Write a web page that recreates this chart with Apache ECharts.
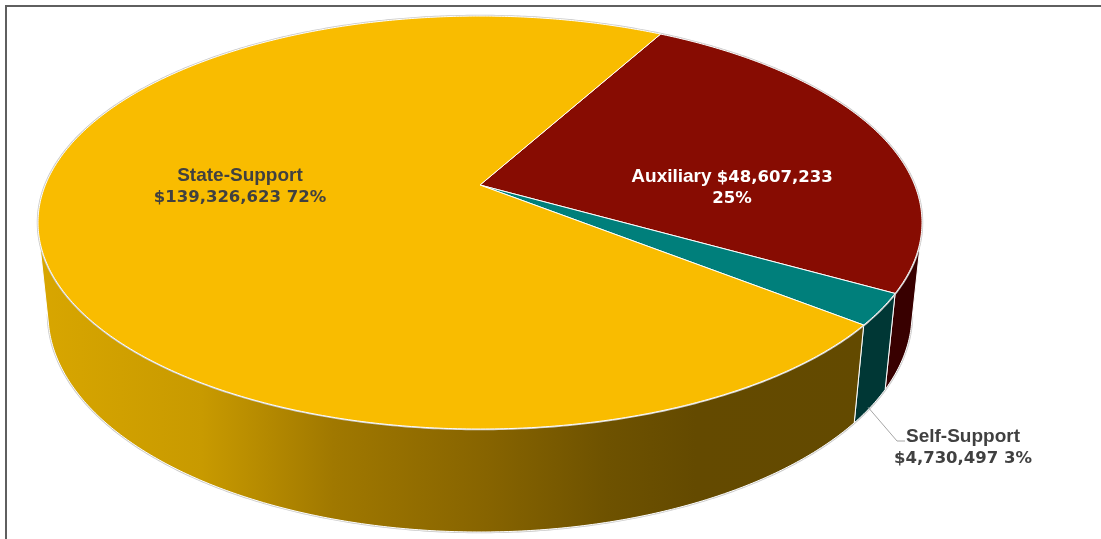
<!DOCTYPE html>
<html>
<head>
<meta charset="utf-8">
<script src="https://cdn.jsdelivr.net/npm/echarts@6/dist/echarts.min.js"></script>
<style>
  html, body { margin: 0; padding: 0; background: #ffffff; }
  #chart { width: 1101px; height: 539px; }
</style>
</head>
<body>
<div id="chart"></div>
<script>
// Funding sources, in drawing order (clockwise from the first slice edge)
const categories = ['Auxiliary', 'Self-Support', 'State-Support'];
const amounts = [48607233, 4730497, 139326623];
const percentLabels = ['25%', '3%', '72%'];

// Colours: top faces and outer walls
const topColors = ['#870C02', '#007F7B', '#F9BC00'];
const wallColors = ['#380000', '#003735', null]; // State-Support wall uses a gradient

// 3D projection of the pie (unit radius disc viewed in perspective)
const FIRST_EDGE_DEG = 61.2;          // angle of the first slice edge, CCW from +X
const TILT = 27.35 * Math.PI / 180;   // camera elevation
const DIST = 4.887;                   // camera distance in radii
const FOCAL = 2124;                   // focal length in px
const THICK = 0.2384;                 // disc thickness in radii
const CX = 480, CY = 185;             // screen position of pie centre
const sinT = Math.sin(TILT), cosT = Math.cos(TILT);

function proj(deg, z) {
  const t = deg * Math.PI / 180;
  const X = Math.cos(t), Y = Math.sin(t);
  const depth = Y * cosT - z * sinT + DIST;
  const up = Y * sinT + z * cosT;
  return [CX + FOCAL * X / depth, CY - FOCAL * up / depth];
}
function centre(z) {
  const depth = -z * sinT + DIST;
  return [CX, CY - FOCAL * (z * cosT) / depth];
}

// Slice angle ranges (start > end, clockwise)
const total = amounts.reduce((s, v) => s + v, 0);
const ranges = [];
(function () {
  let a = FIRST_EDGE_DEG;
  amounts.forEach(v => {
    const span = v / total * 360;
    ranges.push([a, a - span]);
    a -= span;
  });
})();

// Visible part of the outer wall (normal faces the camera)
const visHi = Math.asin(-1 / (DIST * cosT)) * 180 / Math.PI;
const visLo = -180 - visHi;

function rim(from, to, z) {
  const pts = [];
  const n = Math.max(2, Math.ceil(Math.abs(from - to) / 0.5));
  for (let k = 0; k <= n; k++) pts.push(proj(from + (to - from) * k / n, z));
  return pts;
}

const stateWallGradient = {
  type: 'linear', x: 40, y: 0, x2: 870, y2: 0, global: true,
  colorStops: [
    { offset: 0, color: '#D8A600' },
    { offset: 0.195, color: '#C89A00' },
    { offset: 0.354, color: '#A07800' },
    { offset: 0.537, color: '#876400' },
    { offset: 0.683, color: '#6E5200' },
    { offset: 0.79, color: '#644A00' },
    { offset: 1, color: '#634A00' }
  ]
};

function renderWall(params) {
  const i = params.dataIndex;
  const [a, b] = ranges[i];
  const hi = Math.min(a, visHi), lo = Math.max(b, visLo);
  const children = [];
  if (i === 0) {
    // soft outline along the bottom edge of the disc
    children.push({
      type: 'polyline',
      shape: { points: rim(visHi + 3, visLo - 3, -THICK) },
      style: { stroke: '#c9c9c9', lineWidth: 2.5, fill: null },
      silent: true
    });
  }
  if (hi > lo) {
    const pts = rim(hi, lo, 0).concat(rim(lo, hi, -THICK));
    children.push({
      type: 'polygon',
      shape: { points: pts },
      style: {
        fill: wallColors[i] || stateWallGradient,
        stroke: '#ffffff', lineWidth: 1, lineJoin: 'round'
      }
    });
  }
  return { type: 'group', children };
}

function renderTop(params) {
  const i = params.dataIndex;
  const [a, b] = ranges[i];
  const children = [];
  if (i === 0) {
    // soft outline around the whole top face
    children.push({
      type: 'polygon',
      shape: { points: rim(0, 360, 0) },
      style: { stroke: '#c9c9c9', lineWidth: 2.5, fill: null },
      silent: true, z2: -1
    });
  }
  const pts = [centre(0)].concat(rim(a, b, 0));
  children.push({
    type: 'polygon',
    shape: { points: pts },
    style: { fill: topColors[i], stroke: '#ffffff', lineWidth: 1, lineJoin: 'round' }
  });
  return { type: 'group', children };
}

function money(v) { return '$' + v.toLocaleString('en-US'); }

const labelRich = (color) => ({
  l: { fontFamily: 'Liberation Sans', fontWeight: 'bold', fontSize: 19, lineHeight: 21.5, fill: color },
  n: { fontFamily: 'DejaVu Sans', fontWeight: 'bold', fontSize: 16.5, lineHeight: 21.5, fill: color }
});

// label anchors (block centre) for each slice
const labelPos = [[732, 188], [963, 448], [240, 187]];
const labelInk = ['#ffffff', '#404040', '#404040'];

function labelText(i) {
  if (i === 0) return '{l|' + categories[i] + ' }{n|' + money(amounts[i]) + '}\n{n|' + percentLabels[i] + '}';
  return '{l|' + categories[i] + '}\n{n|' + money(amounts[i]) + ' ' + percentLabels[i] + '}';
}

function renderLabel(params) {
  const i = params.dataIndex;
  const children = [{
    type: 'text',
    style: {
      text: labelText(i),
      x: labelPos[i][0], y: labelPos[i][1],
      align: 'center', verticalAlign: 'middle',
      rich: labelRich(labelInk[i])
    }
  }];
  if (i === 1) {
    // leader line from the wall of the thin slice to its label
    const mid = (ranges[i][0] + ranges[i][1]) / 2;
    const p0 = proj(mid, -THICK);
    children.push({
      type: 'polyline',
      shape: { points: [[p0[0] - 3, p0[1] + 1], [897, 441], [905, 441]] },
      style: { stroke: '#a6a6a6', lineWidth: 1, fill: null }
    });
  }
  return { type: 'group', children };
}

const seriesData = amounts.map((v, i) => ({ name: categories[i], value: v }));

const chart = echarts.init(document.getElementById('chart'), null, { renderer: 'canvas' });
chart.setOption({
  animation: false,
  backgroundColor: '#ffffff',
  graphic: [{
    type: 'rect',
    shape: { x: 6, y: 6, width: 1300, height: 800 },
    style: { fill: null, stroke: '#5f5f5f', lineWidth: 2 },
    z: -10, silent: true
  }],
  series: [
    { type: 'custom', coordinateSystem: 'none', data: seriesData, renderItem: renderWall, z: 1, silent: true },
    { type: 'custom', coordinateSystem: 'none', data: seriesData, renderItem: renderTop, z: 2, silent: true },
    { type: 'custom', coordinateSystem: 'none', data: seriesData, renderItem: renderLabel, z: 3, silent: true }
  ]
});
</script>
</body>
</html>
